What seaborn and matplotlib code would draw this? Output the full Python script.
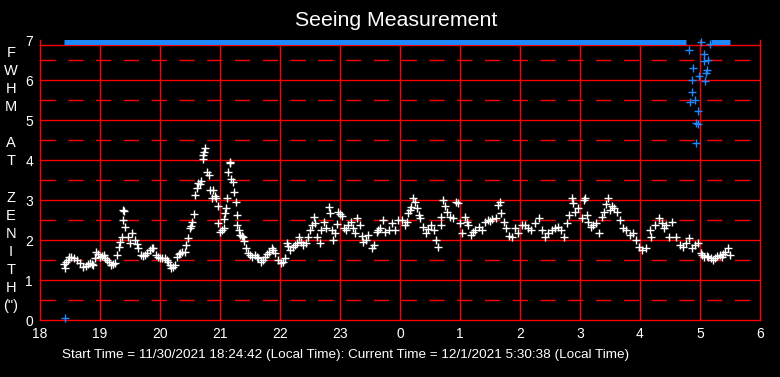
import matplotlib
matplotlib.use("Agg")
import matplotlib.pyplot as plt
import seaborn as sns
import numpy as np
import pandas as pd

# seeing measurement (hours since midnight of start day; values past 24 are next morning)
seeing_time = [
    18.40, 18.42, 18.43, 18.46, 18.49, 18.52, 18.56, 18.61, 18.66, 18.72, 18.76, 18.80, 18.83,
    18.86, 18.89, 18.92, 18.94, 18.97, 19.00, 19.03, 19.06, 19.09, 19.11, 19.15, 19.19, 19.22,
    19.25, 19.28, 19.31, 19.34, 19.36, 19.38, 19.39, 19.40, 19.42, 19.46, 19.50, 19.54, 19.58,
    19.61, 19.64, 19.69, 19.72, 19.75, 19.79, 19.83, 19.86, 19.89, 19.94, 19.97, 20.00, 20.04,
    20.08, 20.11, 20.14, 20.17, 20.19, 20.22, 20.25, 20.28, 20.31, 20.33, 20.37, 20.42, 20.44,
    20.47, 20.50, 20.52, 20.54, 20.57, 20.58, 20.61, 20.64, 20.66, 20.69, 20.71, 20.72, 20.74,
    20.75, 20.78, 20.81, 20.83, 20.86, 20.89, 20.92, 20.94, 20.96, 20.97, 21.00, 21.03, 21.06,
    21.07, 21.08, 21.10, 21.12, 21.14, 21.16, 21.17, 21.19, 21.22, 21.24, 21.26, 21.28, 21.29,
    21.31, 21.33, 21.36, 21.38, 21.40, 21.43, 21.47, 21.50, 21.53, 21.58, 21.61, 21.64, 21.69,
    21.72, 21.75, 21.78, 21.81, 21.86, 21.89, 21.92, 21.97, 22.02, 22.05, 22.08, 22.11, 22.14,
    22.17, 22.22, 22.25, 22.28, 22.32, 22.35, 22.38, 22.43, 22.47, 22.50, 22.53, 22.56, 22.58,
    22.62, 22.67, 22.69, 22.73, 22.77, 22.81, 22.83, 22.86, 22.89, 22.92, 22.95, 22.97, 23.00,
    23.03, 23.06, 23.10, 23.14, 23.19, 23.22, 23.25, 23.29, 23.33, 23.36, 23.39, 23.44, 23.47,
    23.53, 23.57, 23.61, 23.64, 23.67, 23.71, 23.75, 23.81, 23.86, 23.92, 23.97, 24.03, 24.08,
    24.11, 24.14, 24.17, 24.19, 24.22, 24.25, 24.28, 24.31, 24.34, 24.39, 24.44, 24.47, 24.51,
    24.56, 24.60, 24.64, 24.68, 24.69, 24.72, 24.75, 24.78, 24.83, 24.89, 24.94, 24.97, 25.00,
    25.03, 25.08, 25.11, 25.14, 25.19, 25.22, 25.25, 25.31, 25.36, 25.42, 25.47, 25.50, 25.54,
    25.60, 25.64, 25.67, 25.69, 25.73, 25.77, 25.81, 25.86, 25.92, 25.97, 26.03, 26.08, 26.14,
    26.19, 26.25, 26.31, 26.36, 26.42, 26.47, 26.53, 26.58, 26.64, 26.69, 26.73, 26.78, 26.82,
    26.86, 26.89, 26.92, 26.97, 27.03, 27.06, 27.08, 27.11, 27.14, 27.18, 27.22, 27.27, 27.32,
    27.36, 27.40, 27.43, 27.46, 27.50, 27.53, 27.56, 27.61, 27.67, 27.71, 27.77, 27.83, 27.89,
    27.94, 27.99, 28.04, 28.10, 28.16, 28.19, 28.25, 28.31, 28.36, 28.40, 28.44, 28.49, 28.54,
    28.60, 28.66, 28.71, 28.77, 28.81, 28.86, 28.92, 28.97, 29.01, 29.04, 29.07, 29.11, 29.14,
    29.18, 29.22, 29.25, 29.29, 29.33, 29.36, 29.39, 29.42, 29.46, 29.50,
]
seeing_fwhm = [
    1.40, 1.30, 1.45, 1.50, 1.58, 1.58, 1.55, 1.50, 1.42, 1.33, 1.36, 1.40, 1.42,
    1.40, 1.38, 1.55, 1.70, 1.66, 1.58, 1.60, 1.63, 1.55, 1.50, 1.44, 1.38, 1.40,
    1.42, 1.63, 1.83, 1.95, 2.08, 2.50, 2.75, 2.72, 2.33, 2.08, 1.92, 2.17, 2.00,
    1.90, 1.79, 1.63, 1.60, 1.63, 1.68, 1.75, 1.80, 1.79, 1.63, 1.58, 1.54, 1.55,
    1.54, 1.50, 1.46, 1.38, 1.29, 1.32, 1.38, 1.58, 1.65, 1.67, 1.70, 1.71, 1.88,
    2.04, 2.29, 2.35, 2.46, 2.65, 3.13, 3.29, 3.42, 3.40, 3.48, 4.02, 4.13, 4.20,
    4.29, 3.70, 3.63, 3.25, 3.04, 3.25, 3.10, 3.04, 2.85, 2.43, 2.20, 2.25, 2.29,
    2.52, 2.67, 2.79, 3.04, 3.71, 3.92, 3.96, 3.52, 3.46, 3.21, 2.96, 2.63, 2.38,
    2.25, 2.13, 2.10, 2.08, 1.98, 1.79, 1.67, 1.62, 1.58, 1.63, 1.58, 1.54, 1.46,
    1.50, 1.58, 1.65, 1.71, 1.79, 1.74, 1.67, 1.50, 1.42, 1.45, 1.54, 1.92, 1.85,
    1.75, 1.83, 1.88, 1.92, 2.08, 1.95, 1.88, 1.92, 2.08, 2.25, 2.38, 2.58, 2.43,
    2.08, 1.92, 2.25, 2.46, 2.29, 2.83, 2.67, 2.25, 2.00, 2.17, 2.40, 2.71, 2.65,
    2.60, 2.29, 2.25, 2.38, 2.46, 2.30, 2.17, 2.54, 2.38, 2.10, 1.96, 2.00, 2.13,
    1.79, 1.88, 2.21, 2.26, 2.29, 2.50, 2.21, 2.25, 2.42, 2.25, 2.50, 2.50, 2.38,
    2.45, 2.67, 2.75, 2.83, 3.04, 2.96, 2.80, 2.63, 2.54, 2.33, 2.17, 2.28, 2.38,
    2.25, 2.00, 1.83, 2.38, 2.58, 3.00, 2.85, 2.71, 2.58, 2.54, 2.96, 2.92, 2.42,
    2.17, 2.58, 2.45, 2.38, 2.13, 2.20, 2.25, 2.33, 2.25, 2.46, 2.50, 2.48, 2.52,
    2.54, 2.88, 2.96, 2.67, 2.46, 2.29, 2.10, 2.08, 2.29, 2.17, 2.38, 2.38, 2.29,
    2.25, 2.42, 2.54, 2.25, 2.08, 2.17, 2.25, 2.29, 2.33, 2.25, 2.08, 2.42, 2.63,
    3.04, 2.92, 2.71, 2.79, 2.54, 3.00, 3.04, 2.63, 2.46, 2.33, 2.38, 2.42, 2.17,
    2.58, 2.71, 2.90, 3.04, 2.75, 2.85, 2.79, 2.71, 2.50, 2.29, 2.25, 2.13, 2.17,
    2.00, 1.83, 1.75, 1.79, 2.25, 2.08, 2.38, 2.54, 2.42, 2.29, 2.38, 2.08, 2.46,
    2.08, 1.88, 1.83, 1.92, 2.04, 1.79, 1.88, 1.92, 1.67, 1.62, 1.58, 1.60, 1.58,
    1.55, 1.50, 1.56, 1.60, 1.62, 1.58, 1.65, 1.71, 1.79, 1.63,
]

# second (blue) channel: pegged at the top of the scale most of the night
blue_top_value = 6.94
blue_gap = (28.80, 29.15)
blue_extra_time = [18.42, 28.82, 28.83, 28.86, 28.87, 28.89, 28.91, 28.93, 28.94, 28.96, 28.97,
                   28.99, 29.02, 29.06, 29.07, 29.09, 29.10, 29.11, 29.14, 29.16]
blue_extra_fwhm = [0.05, 6.75, 5.44, 5.69, 6.00, 6.29, 5.50, 4.92, 4.42, 4.89, 5.23,
                   6.10, 6.94, 6.65, 6.48, 5.98, 6.18, 6.25, 6.50, 6.90]

tick_hours = list(range(18, 31))
tick_labels = ['18', '19', '20', '21', '22', '23', '0', '1', '2', '3', '4', '5', '6']
ylabel_chars = ['F', 'W', 'H', 'M', '', 'A', 'T', '', 'Z', 'E', 'N', 'I', 'T', 'H', '(")']

sns.set_style("dark")
plt.rcParams['font.family'] = ['Liberation Sans', 'DejaVu Sans']

red = '#ff0000'
blue = '#1e88ff'

fig = plt.figure(figsize=(7.8, 3.77), dpi=100, facecolor='black')
ax = fig.add_axes([40 / 780, 57 / 377, 720 / 780, 280 / 377])
ax.set_facecolor('black')

# grid: solid red on whole units, dashed red on half units
for h in tick_hours[1:-1]:
    ax.axvline(h, color=red, lw=1.0, zorder=1)
for v in range(1, 7):
    ax.axhline(v, color=red, lw=1.0, zorder=1)
for v in np.arange(0.5, 7, 1.0):
    ax.axhline(v, color=red, lw=1.0, linestyle=(0, (11, 9)), zorder=1)
ax.axhline(6.875, color=red, lw=1.0, zorder=1)

# blue channel pegged at the top: dense points merge into a solid band
blue_df = pd.DataFrame({'time': seeing_time})
blue_df = blue_df[(blue_df['time'] < blue_gap[0]) | (blue_df['time'] > blue_gap[1])].copy()
blue_df['fwhm'] = blue_top_value
blue_df['segment'] = np.where(blue_df['time'] < blue_gap[0], 0, 1)
sns.lineplot(data=blue_df, x='time', y='fwhm', units='segment', estimator=None,
             color=blue, lw=3.6, solid_capstyle='butt', ax=ax, zorder=3, clip_on=False)
sns.scatterplot(x=blue_extra_time, y=blue_extra_fwhm, marker='+', color=blue,
                s=30, linewidth=1.0, ax=ax, zorder=3, clip_on=False)
sns.scatterplot(x=seeing_time, y=seeing_fwhm, marker='+', color='white',
                s=30, linewidth=1.0, ax=ax, zorder=4)

ax.set_xlim(18, 30)
ax.set_ylim(0, 7)
ax.set_xticks(tick_hours)
ax.set_xticklabels(tick_labels)
ax.set_yticks(range(0, 8))
ax.set_xlabel('')
ax.set_ylabel('')
ax.tick_params(colors='white', labelsize=10, length=0, pad=5)
ax.grid(False)
for side in ['left', 'bottom', 'right']:
    ax.spines[side].set_color(red)
    ax.spines[side].set_linewidth(1.0)
    ax.spines[side].set_visible(True)
ax.spines['top'].set_visible(False)

fig.text(396 / 780, 1 - 21 / 377, 'Seeing Measurement', color='white', fontsize=15.3,
         ha='center', va='center')

# stacked y-axis label
for i, ch in enumerate(ylabel_chars):
    fig.text(11 / 780, 1 - (53 + i * 18.07) / 377, ch, color='white', fontsize=10.5,
             ha='center', va='center')

fig.text(62 / 780, 1 - 355 / 377,
         'Start Time = 11/30/2021 18:24:42 (Local Time): Current Time = 12/1/2021 5:30:38 (Local Time)',
         color='white', fontsize=9.7, ha='left', va='center')

plt.savefig('out.png', dpi=100, facecolor='black')
